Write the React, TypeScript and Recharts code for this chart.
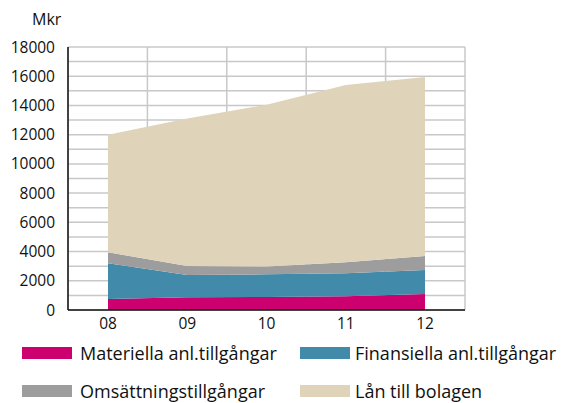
import { AreaChart, Area, XAxis, YAxis, CartesianGrid } from "recharts"

const years = ["08", "09", "10", "11", "12"]
const materiella = [750, 870, 890, 940, 1100]
const finansiella = [2450, 1530, 1550, 1570, 1640]
const omsattning = [750, 610, 530, 760, 960]
const lan = [8050, 10090, 11080, 12130, 12250]
const yTicks = [0, 2000, 4000, 6000, 8000, 10000, 12000, 14000, 16000, 18000]
const gridValues = [0, 1000, 2000, 3000, 4000, 5000, 6000, 7000, 8000, 9000, 10000, 11000, 12000, 13000, 14000, 15000, 16000, 17000, 18000]

const series = [
  { key: "materiella", name: "Materiella anl.tillgångar", color: "#cc006e" },
  { key: "finansiella", name: "Finansiella anl.tillgångar", color: "#418aa9" },
  { key: "omsattning", name: "Omsättningstillgångar", color: "#9d9d9d" },
  { key: "lan", name: "Lån till bolagen", color: "#dfd4ba" },
]

const data = years.map((y, i) => ({
  year: y,
  materiella: materiella[i],
  finansiella: finansiella[i],
  omsattning: omsattning[i],
  lan: lan[i],
}))

const font = "'Open Sans', sans-serif"

function LegendItem({ color, label, left, top, textLeft }: { color: string; label: string; left: number; top: number; textLeft: number }) {
  return (
    <>
      <div style={{ position: "absolute", left, top, width: 50, height: 12, background: color }} />
      <div
        style={{
          position: "absolute",
          left: textLeft,
          top: top - 7,
          lineHeight: "26px",
          fontSize: 18,
          color: "#111",
          fontFamily: font,
          whiteSpace: "nowrap",
        }}
      >
        {label}
      </div>
    </>
  )
}

export default function App() {
  return (
    <div style={{ position: "absolute", left: 0, top: 0, width: 580, height: 403, background: "#fff", fontFamily: font }}>
      <div style={{ position: "absolute", left: 32, top: 8, fontSize: 16, color: "#111" }}>Mkr</div>
      <AreaChart
        width={580}
        height={340}
        data={data}
        margin={{ top: 47, right: 115, bottom: 0, left: 0 }}
      >
        <CartesianGrid
          stroke="#c8c8c8"
          strokeWidth={1.5}
          horizontalValues={gridValues}
          verticalCoordinatesGenerator={({ offset }: any) =>
            [0, 1, 2, 3, 4, 5].map((i) => offset.left + (i * offset.width) / 5)
          }
        />
        <XAxis
          dataKey="year"
          padding={{ left: 40, right: 40 }}
          tickLine={false}
          axisLine={{ stroke: "#111", strokeWidth: 1.5 }}
          tick={{ fill: "#111", fontSize: 15.5, fontFamily: font }}
          tickMargin={2}
        />
        <YAxis
          width={68}
          domain={[0, 18000]}
          ticks={yTicks}
          interval={0}
          tickLine={false}
          axisLine={{ stroke: "#111", strokeWidth: 1.5 }}
          tick={{ fill: "#111", fontSize: 15.5, fontFamily: font }}
          tickMargin={7}
        />
        {series.map((s) => (
          <Area
            key={s.key}
            type="linear"
            dataKey={s.key}
            name={s.name}
            stackId="1"
            stroke="none"
            fill={s.color}
            fillOpacity={1}
            isAnimationActive={false}
          />
        ))}
      </AreaChart>
      <LegendItem color={series[0].color} label={series[0].name} left={22} top={347} textLeft={80} />
      <LegendItem color={series[1].color} label={series[1].name} left={300} top={347} textLeft={355} />
      <LegendItem color={series[2].color} label={series[2].name} left={22} top={385} textLeft={80} />
      <LegendItem color={series[3].color} label={series[3].name} left={300} top={385} textLeft={355} />
    </div>
  )
}
